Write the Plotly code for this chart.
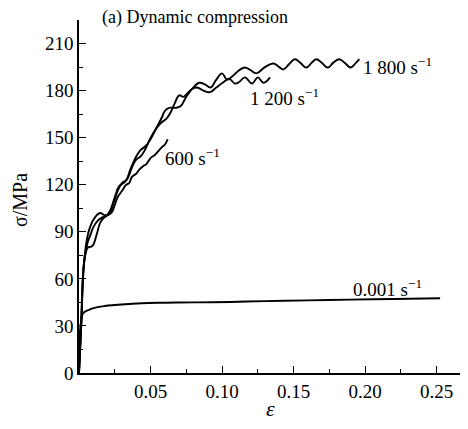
import plotly.graph_objects as go

# Quasi-static 0.001 s^-1
qs_strain = [0, 0.0004, 0.001, 0.0018, 0.0028, 0.0045, 0.0063, 0.009, 0.013, 0.018, 0.025,
             0.035, 0.044, 0.06, 0.081, 0.106, 0.13, 0.16, 0.19, 0.22, 0.2525]
qs_stress = [8, 22, 30, 35, 38, 39.3, 40, 41, 42, 42.7, 43.3,
             44, 44.5, 44.8, 45, 45.3, 45.8, 46.3, 46.8, 47.2, 47.6]

# 600 s^-1
s600_strain = [0, 0.0015, 0.0035, 0.0055, 0.0063, 0.0085, 0.0098, 0.0126, 0.0147, 0.017, 0.020,
               0.023, 0.025, 0.027, 0.030, 0.033, 0.035, 0.037, 0.040, 0.042, 0.045, 0.047,
               0.050, 0.053, 0.055, 0.058, 0.060, 0.062]
s600_stress = [0, 30, 70, 79, 80, 80.5, 81.5, 89, 95.5, 98.6, 100.6,
               102.5, 107, 112, 116, 120, 121, 125, 127, 129.5, 132, 133,
               137, 139, 141, 144, 145.5, 149]

# 1200 s^-1
s1200_strain = [0, 0.0015, 0.0035, 0.006, 0.008, 0.010, 0.013, 0.016, 0.019, 0.022, 0.025,
                0.028, 0.031, 0.034, 0.037, 0.040, 0.043, 0.046, 0.049, 0.052, 0.055,
                0.058, 0.061, 0.064, 0.067, 0.070, 0.073, 0.0755, 0.079, 0.0825, 0.087,
                0.0916, 0.096, 0.1005, 0.105, 0.109, 0.112, 0.116, 0.121, 0.125, 0.129,
                0.1336]
s1200_stress = [0, 30, 70, 83, 88, 93, 97, 99, 100, 104, 112,
                119, 121, 124, 131, 136, 138, 142, 148, 153, 157,
                160, 162, 166, 172, 177, 176, 178, 181, 182, 180,
                179, 182, 185, 187.5, 184.5, 185.5, 188.4, 184.5, 188.4, 185,
                188.4]

# 1800 s^-1
s1800_strain = [0, 0.0015, 0.0035, 0.0055, 0.0077, 0.011, 0.0147, 0.018, 0.021, 0.024, 0.027,
                0.030, 0.033, 0.036, 0.040, 0.043, 0.047, 0.050, 0.054, 0.058, 0.060,
                0.063, 0.067, 0.071, 0.075, 0.080, 0.084, 0.088, 0.092, 0.096, 0.100,
                0.1035, 0.107, 0.112, 0.116, 0.120, 0.124, 0.130, 0.136, 0.140, 0.143,
                0.147, 0.151, 0.155, 0.159, 0.163, 0.166, 0.170, 0.174, 0.178, 0.182,
                0.186, 0.190, 0.193, 0.196]
s1800_stress = [0, 30, 70, 85, 93, 99, 102, 100.6, 101, 108, 116,
                121, 123, 130, 138, 142, 145, 149, 156, 163, 167,
                169, 169, 170, 176, 182, 185, 184, 182, 187, 191,
                187, 189, 193, 194.7, 193, 191, 195, 197.3, 195, 193.5,
                197, 200, 197.5, 194.7, 198, 200, 197.5, 194.7, 198, 200,
                197.5, 194.7, 197, 200]

labels = ["0.001 s<sup>\u22121</sup>", "600 s<sup>\u22121</sup>",
          "1 200 s<sup>\u22121</sup>", "1 800 s<sup>\u22121</sup>"]
label_pos = [(0.190, 54), (0.0587, 137.5), (0.118, 175.7), (0.1975, 195.5)]

y_ticks = [0, 30, 60, 90, 120, 150, 180, 210]
x_ticks = [0.05, 0.10, 0.15, 0.20, 0.25]
x_tick_text = ["0.05", "0.10", "0.15", "0.20", "0.25"]

FONT = "Liberation Serif, Times New Roman, Times, DejaVu Serif, serif"

fig = go.Figure()
for xs, ys in [(qs_strain, qs_stress), (s600_strain, s600_stress),
               (s1200_strain, s1200_stress), (s1800_strain, s1800_stress)]:
    fig.add_trace(go.Scatter(x=xs, y=ys, mode="lines",
                             line=dict(color="black", width=1.9, shape="spline", smoothing=1.2),
                             showlegend=False, hoverinfo="skip"))

for txt, (lx, ly) in zip(labels, label_pos):
    fig.add_annotation(x=lx, y=ly, text=txt, showarrow=False, xanchor="left", yanchor="middle",
                       font=dict(family=FONT, size=19, color="black"))

fig.add_annotation(xref="paper", yref="paper", x=(100 - 79) / 389, y=1 + (20 - 18) / 353,
                   text="(a) Dynamic compression", showarrow=False, xanchor="left",
                   yanchor="middle", font=dict(family=FONT, size=18, color="black"))
fig.add_annotation(xref="paper", yref="paper", x=(270 - 79) / 389, y=-(408 - 373) / 353,
                   text="<i>\u03b5</i>", showarrow=False, xanchor="center", yanchor="middle",
                   font=dict(family=FONT, size=22, color="black"))
fig.add_annotation(xref="paper", yref="paper", x=-(79 - 20) / 389, y=(373 - 200) / 353,
                   text="\u03c3/MPa", showarrow=False, xanchor="center", yanchor="middle",
                   textangle=-90, font=dict(family=FONT, size=20, color="black"))

# page body has an 8px margin, so the figure is offset by 8px
fig.update_layout(
    width=460, height=421,
    margin=dict(l=71, r=0, t=12, b=56),
    plot_bgcolor="white", paper_bgcolor="white",
    font=dict(family=FONT, size=19, color="black"),
)
fig.update_xaxes(range=[0, 0.272], showgrid=False, zeroline=False, showline=True,
                 linecolor="black", linewidth=1.5, ticks="inside", ticklen=7, tickwidth=1.3,
                 tickcolor="black", tickvals=x_ticks, ticktext=x_tick_text,
                 minor=dict(tickvals=[0.025, 0.075, 0.125, 0.175, 0.225], ticks="inside",
                            ticklen=4, tickwidth=1.2, tickcolor="black"),
                 tickfont=dict(family=FONT, size=19))
fig.update_yaxes(range=[0, 225], showgrid=False, zeroline=False, showline=True,
                 linecolor="black", linewidth=1.5, ticks="inside", ticklen=7, tickwidth=1.3,
                 tickcolor="black", tickvals=y_ticks,
                 minor=dict(tickvals=[15, 45, 75, 105, 135, 165, 195], ticks="inside",
                            ticklen=4, tickwidth=1.2, tickcolor="black"),
                 tickfont=dict(family=FONT, size=19))

fig.write_html("out.html")
